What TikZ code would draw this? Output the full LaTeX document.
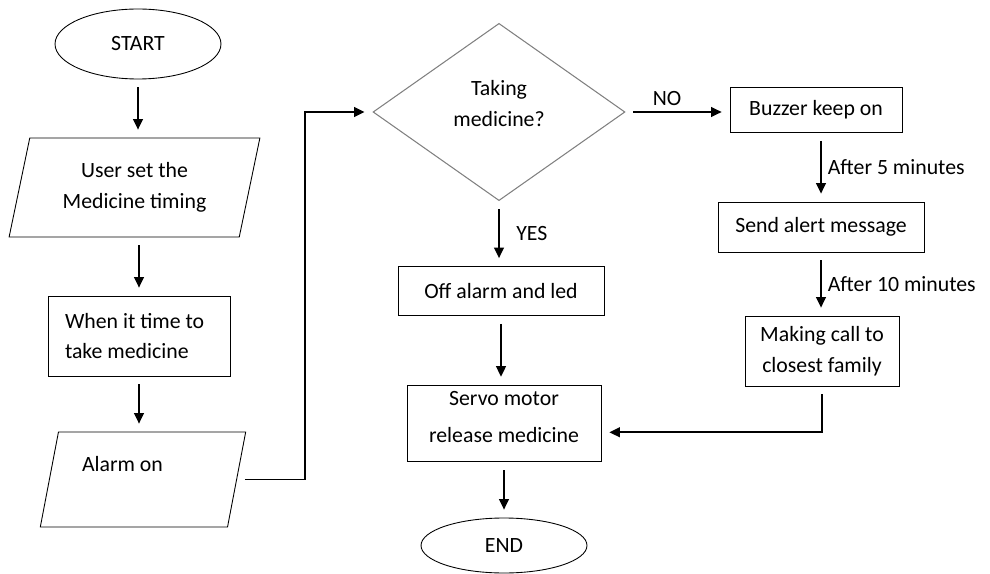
\documentclass[tikz,border=0pt]{standalone}
\usepackage{fontspec}
\setmainfont{Carlito}
\usetikzlibrary{shapes.geometric,arrows.meta,calc}

\begin{document}
\begin{tikzpicture}[
		x=0.02cm, y=-0.02cm,
		font=\fontsize{12.4}{17.5}\selectfont,
		terminal/.style={ellipse, draw, line width=0.5pt, minimum width=3.32cm},
		process/.style={rectangle, draw, line width=0.5pt, align=center},
		io/.style={trapezium, trapezium left angle=76, trapezium right angle=104,
			trapezium stretches=true, draw, line width=0.5pt, align=center},
		choice/.style={diamond, draw=gray, line width=0.6pt, align=center,
			minimum width=5.04cm, minimum height=3.48cm},
		flow/.style={-{Triangle[length=6pt,width=5.5pt]}, line width=1.1pt,
			shorten <=4.5pt, shorten >=4.5pt}
	]
		\useasboundingbox (0,0) rectangle (990,574);

		\node[terminal, minimum height=1.4cm] (start) at (138,44) {START};
		\node[io, minimum width=5.02cm, minimum height=1.98cm] (setting) at (134.5,187.5) {User set the\\Medicine timing};
		\node[process, minimum width=3.64cm, minimum height=1.6cm, text width=2.96cm, align=flush left] (timecheck) at (139,336) {When it time to\\take medicine};
		\node[io, minimum width=4.12cm, minimum height=1.9cm, text width=2.44cm, align=flush left] (alarm) at (143,479.5) {Alarm on\\\mbox{}};

		\node[choice] (decision) at (499,112) {Taking\\medicine?\\[-8pt]\mbox{}};
		\node[process, minimum width=4.12cm, minimum height=0.98cm] (offalarm) at (501,291) {Off alarm and led};
		\node[process, minimum width=3.88cm, minimum height=1.5cm] (servo) at (504,423.5) {Servo motor\\[4pt]release medicine\\[-10pt]\mbox{}};
		\node[terminal, minimum height=1.1cm] (stop) at (504,545.5) {END};

		\node[process, minimum width=3.44cm, minimum height=0.9cm] (buzzer) at (816,110) {Buzzer keep on};
		\node[process, minimum width=4.12cm, minimum height=1.0cm] (alert) at (821,227) {Send alert message};
		\node[process, minimum width=3.08cm, minimum height=1.4cm] (call) at (822,351) {Making call to\\closest family};

		\coordinate (bend) at (305,112);

		\draw[flow] (start.south) -- (start.south |- setting.north);
		\draw[flow] (timecheck |- setting.south) -- (timecheck.north);
		\draw[flow] (timecheck.south) -- (timecheck.south |- alarm.north);
		\draw[flow] (alarm.east) -| (bend) -- (decision.west);
		\draw[flow] (decision.south) -- (decision.south |- offalarm.north) node[midway, right, xshift=6pt] {YES};
		\draw[flow] (offalarm.south) -- (offalarm.south |- servo.north);
		\draw[flow] (servo.south) -- (stop.north);
		\draw[flow] (decision.east) -- (decision.east -| buzzer.west) node[pos=0.4, above] {NO};
		\draw[flow] (alert.north |- buzzer.south) -- (alert.north) node[midway, right] {After 5 minutes};
		\draw[flow] (alert.south) -- (alert.south |- call.north) node[midway, right] {After 10 minutes};
		\draw[flow] (call.south) |- ([yshift=-5pt]servo.east);
	\end{tikzpicture}
\end{document}
